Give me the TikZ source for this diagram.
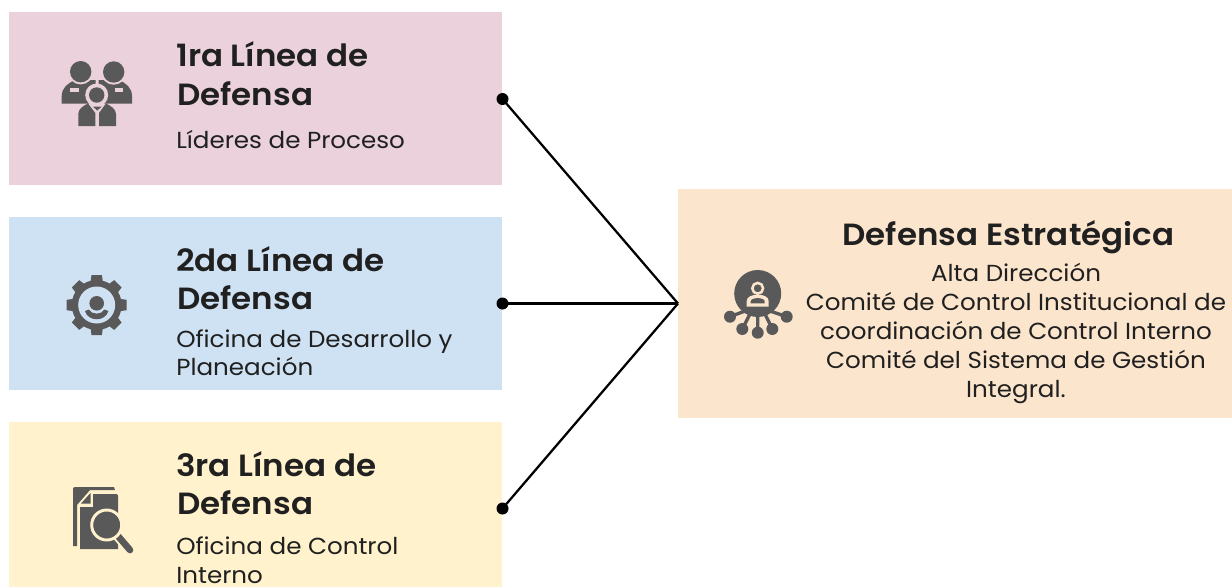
\documentclass[tikz,border=0pt]{standalone}
\usepackage{fontspec}
\setmainfont[FakeStretch=1.06]{Poppins}
\newfontfamily\titlefont[FakeStretch=1.06]{Poppins SemiBold}
\definecolor{ic}{HTML}{595959}
\definecolor{tx}{HTML}{202020}
\definecolor{pk}{HTML}{EAD1DC}
\definecolor{bl}{HTML}{CFE2F3}
\definecolor{yl}{HTML}{FFF2CC}
\definecolor{og}{HTML}{FCE5CD}
\tikzset{
 panel/.style={inner sep=0pt,outer sep=0pt,minimum width=#1*0.75pt},
 ttl/.style={inner sep=0pt,anchor=base west,font=\titlefont\fontsize{23}{23}\selectfont,text=tx},
 ttc/.style={inner sep=0pt,anchor=base,font=\titlefont\fontsize{23}{23}\selectfont,text=tx},
 bod/.style={inner sep=0pt,anchor=base west,font=\fontsize{17.4}{17.4}\selectfont,text=tx},
 boc/.style={inner sep=0pt,anchor=base,font=\fontsize{17.4}{17.4}\selectfont,text=tx},
 dot/.style={circle,fill=black,inner sep=0pt,minimum size=9pt},
 wire/.style={draw=black,line width=1.7pt}
}
\begin{document}
\begin{tikzpicture}[x=0.75pt,y=-0.75pt]
\useasboundingbox (0,0) rectangle (1232,587);
\fill[white] (0,0) rectangle (1232,587);
\node[fill=pk,panel=493,minimum height=129.75pt,anchor=north west] (b1) at (9,12) {};
\node[fill=bl,panel=493,minimum height=129.75pt,anchor=north west] (b2) at (9,217) {};
\node[fill=yl,panel=493,minimum height=123.75pt,anchor=north west] (b3) at (9,422) {};
\node[fill=og,panel=554,minimum height=171.75pt,anchor=north west] (r) at (678,189) {};
% titles
\node[ttl] (t1a) at (176,66) {1ra Línea de};
\node[ttl] (t1b) at (177,105) {Defensa};
\node[bod] (s1) at (176,148) {Líderes de Proceso};
\node[ttl] (t2a) at (176,271) {2da Línea de};
\node[ttl] (t2b) at (177,309) {Defensa};
\node[bod] (s2a) at (176,347) {Oficina de Desarrollo y};
\node[bod] (s2b) at (176,375) {Planeación};
\node[ttl] (t3a) at (176,476) {3ra Línea de};
\node[ttl] (t3b) at (177,514) {Defensa};
\node[bod] (s3a) at (176,554) {Oficina de Control};
\node[bod] (s3b) at (176,583) {Interno};
\node[ttc] (ra) at (1008.5,245) {Defensa Estratégica};
\node[boc] (rb) at (1016,281) {Alta Dirección};
\node[boc] (rc) at (1016,310) {Comité de Control Institucional de};
\node[boc] (rd) at (1016,339) {coordinación de Control Interno};
\node[boc] (re) at (1016,368) {Comité del Sistema de Gestión};
\node[boc] (rf) at (1016,397) {Integral.};
% connectors
\node[dot] (d1) at (502.5,99) {};
\node[dot] (d2) at (502.5,303.5) {};
\node[dot] (d3) at (502.5,508.5) {};
\draw[wire] (d1.center) -- (r.west);
\draw[wire] (d2.center) -- (r.west);
\draw[wire] (d3.center) -- (r.west);
% icon 1: people
\fill[ic] (61.7,103.5) -- (61.7,96) .. controls (61.7,88) and (68,83) .. (75,80) -- (95.5,80) -- (95.5,103.5) -- cycle;
\fill[ic] (132,103.5) -- (132,96) .. controls (132,88) and (126,83) .. (119,80) -- (98.5,80) -- (98.5,103.5) -- cycle;
\fill[pk] (80.7,71.7) circle (12.7);
\fill[pk] (113.7,72) circle (12.7);
\fill[ic] (80.7,71.7) circle (10.7);
\fill[ic] (113.7,72) circle (10.7);
\fill[pk] (70,88.3) rectangle (79.3,92.3);
\fill[pk] (115,88.3) rectangle (123.3,92.3);
\fill[pk] (96.7,95) circle (11.5);
\fill[ic] (96.7,95) circle (7.7);
\fill[pk] (75,104) rectangle (119,128);
\fill[ic] (78.3,126) -- (78.3,114) .. controls (78.3,109) and (83,106) .. (88,103.5) -- (95.3,113) -- (95.3,126) -- cycle;
\fill[ic] (116,126) -- (116,114) .. controls (116,109) and (111,106) .. (106,103.5) -- (99,113) -- (99,126) -- cycle;
\fill[ic] (93,106.7) -- (101.7,106.7) -- (97.2,110.5) -- cycle;
% icon 2: gear
\foreach \a in {0,45,...,315}{
 \fill[ic,rotate around={\a:(96.7,305)}] (91.5,275) -- (101.9,275) -- (104,290) -- (89.4,290) -- cycle;
}
\fill[ic] (96.7,305) circle (25);
\fill[bl] (96.7,305) circle (18.5);
\fill[ic] (96.7,303.3) circle (7.3);
\fill[ic] (85,311) .. controls (88,322) and (105.4,322) .. (108.4,311) -- (104.5,309.5) .. controls (102,315) and (91.4,315) .. (88.9,309.5) -- cycle;
% icon 3: document
\fill[ic] (73,489) .. controls (73,487.5) and (74,487) .. (75,487) -- (114,487) -- (115,490) -- (90,490) -- (77,505) -- (77,546) -- (73,546) -- cycle;
\fill[ic] (93,494) -- (116,494) .. controls (117.5,494) and (118,495) .. (118,496) -- (118,549) -- (80,549) -- (80,507) -- (93,507) -- cycle;
\fill[ic] (81,503.5) -- (90.5,503.5) -- (90.5,493) -- cycle;
\draw[yl,line width=8pt,line cap=round] (118,536) -- (130,550);
\draw[ic,line width=5pt,line cap=round] (118,536) -- (130,550);
\draw[yl,line width=2.2pt,fill=ic] (106.7,525) circle (15);
% icon 4: network head
\draw[ic,line width=2.5pt] (730,316.7) -- (745,311) (742.3,329) -- (750,314) (757.7,332.7) -- (757.7,314) (772.3,329) -- (765,314) (786.7,316.7) -- (770,311);
\fill[ic] (757.7,293.5) circle (23.5);
\draw[og,line width=1.9pt] (757.7,288.3) circle (5.4);
\fill[og] (746.7,306.7) -- (746.7,301) .. controls (746.7,292.5) and (768.7,292.5) .. (768.7,301) -- (768.7,306.7) -- cycle;
\fill[ic] (750.7,303.3) -- (750.7,301.5) .. controls (750.7,297) and (764.7,297) .. (764.7,301.5) -- (764.7,303.3) -- cycle;
\fill[ic] (730,316.7) circle (6);
\fill[ic] (742.3,329) circle (6);
\fill[ic] (757.7,332.7) circle (6);
\fill[ic] (772.3,329) circle (6);
\fill[ic] (786.7,316.7) circle (6);
\end{tikzpicture}
\end{document}
